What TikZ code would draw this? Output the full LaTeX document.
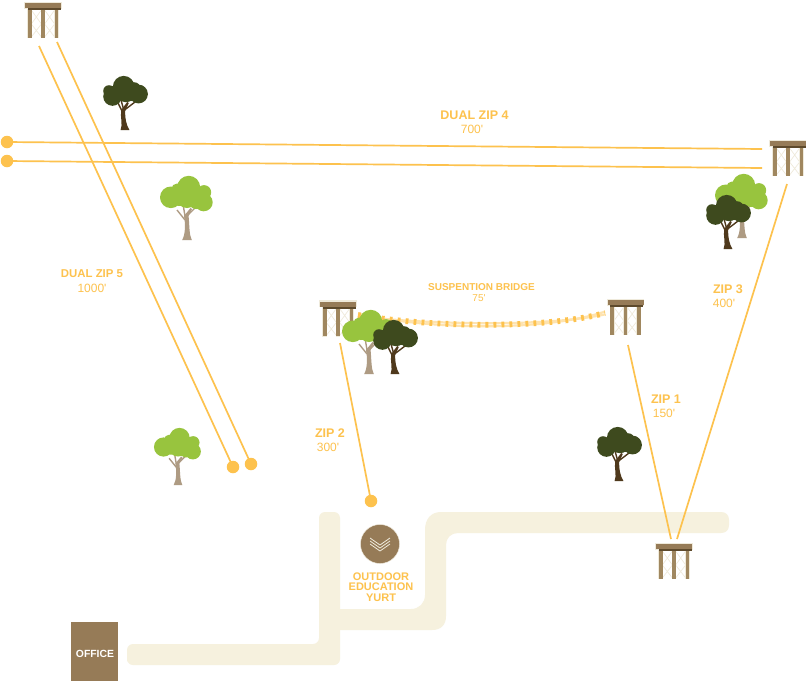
\documentclass[tikz,border=0pt]{standalone}
\usepackage{fontspec}
\setmainfont{Liberation Sans}
\definecolor{zipline}{HTML}{FDC24E}
\definecolor{pathcream}{HTML}{F6F1DE}
\definecolor{woodbrown}{HTML}{967B57}
\definecolor{postbrown}{HTML}{A0875F}
\definecolor{beamdark}{HTML}{5E4A2C}
\definecolor{braceline}{HTML}{EFEADB}
\definecolor{darkleaf}{HTML}{3E4A1E}
\definecolor{lightleaf}{HTML}{98C43E}
\definecolor{darkbark}{HTML}{4F391C}
\definecolor{lightbark}{HTML}{AE9B83}
\newcommand{\ft}{\textquotesingle}
\tikzset{
  x=1pt,y=-1pt,
  zip/.style={draw=zipline,line width=1.7pt},
  enddot/.style={circle,fill=zipline,inner sep=0pt,minimum size=12.5pt},
  zipname/.style={text=zipline,font=\bfseries\fontsize{12.5}{13}\selectfont,inner sep=0pt},
  ziplen/.style={text=zipline,font=\fontsize{12}{13}\selectfont,inner sep=0pt},
  yurtname/.style={text=zipline,font=\bfseries\fontsize{11}{11}\selectfont,align=center,inner sep=0pt},
  platform/.pic={
    \draw[braceline,line width=.7pt] (-11.7,9)--(-1.6,23)--(-11.7,36) (-1.6,9)--(-11.7,23)--(-1.6,36)
      (1.6,9)--(11.7,23)--(1.6,36) (11.7,9)--(1.6,23)--(11.7,36);
    \foreach \px in {-13.3,0,13.3}{
      \fill[braceline] (\px-2.4,6) rectangle (\px+2.4,37);
      \fill[postbrown] (\px-1.8,6) rectangle (\px+1.8,36.5);
    }
    \fill[braceline] (-18.8,0.6) rectangle (18.8,7.6);
    \fill[woodbrown] (-18,2) rectangle (18,7);
    \fill[beamdark] (-15.5,7) rectangle (17.5,9);
  },
  darktree/.pic={
    \fill[darkbark] (-4.4,0) .. controls (-2,-6) and (-5,-13) .. (-3.8,-20) -- (2.2,-28) -- (3.8,-27)
      -- (0.2,-19) .. controls (-0.2,-12) and (1.4,-5) .. (4.4,0) -- cycle;
    \draw[darkbark,line width=1.4pt] (-2,-17) -- (-7,-27) (-1.5,-21) -- (-4,-30) (-0.5,-20) -- (10,-28);
    \fill[darkleaf] (-1.3,-43.3) circle (10.8) (-16,-39) circle (5.8) (-12.5,-33.5) circle (9.3)
      (9,-41) circle (6.8) (13.5,-36) circle (9.4) (1,-37) circle (9.2) (-7,-38) circle (8) (6,-37) circle (8);
  },
  lighttree/.pic={
    \fill[lightbark] (-4.8,0) .. controls (-1.5,-6) and (-1.5,-16) .. (-3,-24) -- (3.5,-32) -- (5,-31)
      -- (1.6,-24) .. controls (2.5,-14) and (2.2,-5) .. (4.8,0) -- cycle;
    \draw[lightbark,line width=1.4pt] (-2,-20) -- (-10,-30) (-2,-24) -- (-4,-36) (0,-24) -- (8,-32);
    \fill[lightleaf] (-16.2,-42.7) circle (10.8) (1.7,-52.7) circle (11.5) (16.7,-37.7) circle (9)
      (17,-47.7) circle (7.2) (-10,-51) circle (5.5) (0,-43) circle (11) (10,-44) circle (9)
      (-8,-43) circle (9) (9,-38) circle (7);
  }
}
\begin{document}
\begin{tikzpicture}
\useasboundingbox (0,0) rectangle (806,681);
\fill[white] (0,0) rectangle (806,681);

% paths
\fill[pathcream,rounded corners=6pt] (127,655) -- (127,644) -- (319,644) -- (319,512) -- (340,512) -- (340,665) -- (127,665) -- cycle;
\fill[pathcream] (340,609) -- (411,609) .. controls (419,609) and (425,603) .. (425,595)
  -- (425,530) .. controls (425,519) and (431,512) .. (441,512) -- (721,512)
  .. controls (726,512) and (729,515) .. (729,520) -- (729,525) .. controls (729,530) and (726,533) .. (721,533)
  -- (458,533) .. controls (451,533) and (446,538) .. (446,545) -- (446,616)
  .. controls (446,625) and (441,630) .. (432,630) -- (340,630) -- cycle;

% office
\node[fill=woodbrown,minimum width=47pt,minimum height=59pt,inner sep=0pt,anchor=north west] (office) at (71,622) {};
\node[text=white,font=\bfseries\fontsize{10.4}{11}\selectfont,inner sep=0pt] (officetext) at (95,654) {OFFICE};

% yurt
\node[circle,fill=woodbrown,draw=braceline,line width=.4pt,minimum size=39pt,inner sep=0pt] (yurt) at (380,544) {};
\foreach \yo in {-6,-3,0}
  \draw[braceline,line width=.8pt] ([xshift=-10pt,yshift=-\yo pt]yurt.center) ++(0,0) -- ++(10,7) -- ++(10,-7);
\node[yurtname] (yurtlabel) at (381,587) {OUTDOOR\\[-.5pt]EDUCATION\\[-.5pt]YURT};

% zip lines
\coordinate (z5a) at (39,46);
\coordinate (z5b) at (57,42);
\coordinate (z4a) at (762,149);
\coordinate (z4b) at (762,168);
\coordinate (z3a) at (787,184);
\coordinate (z3b) at (677,539);
\coordinate (z1a) at (628,345);
\coordinate (z1b) at (671,539);
\coordinate (z2a) at (340,343);
\coordinate (brl) at (358,315);
\coordinate (brr) at (605,313);
\node[enddot] (d5a) at (233,467) {};
\node[enddot] (d5b) at (251,464) {};
\node[enddot] (d4a) at (7,142) {};
\node[enddot] (d4b) at (7,161) {};
\node[enddot] (d2) at (371,501) {};
\draw[zip] (z5a) -- (d5a.center);
\draw[zip] (z5b) -- (d5b.center);
\draw[zip] (d4a.center) -- (z4a);
\draw[zip] (d4b.center) -- (z4b);
\draw[zip] (z3a) -- (z3b);
\draw[zip] (z1a) -- (z1b);
\draw[zip] (z2a) -- (d2.center);

% bridge
\draw[zipline!45,line width=2.2pt] ([yshift=-1.4pt]brl) .. controls (420,323.5) and (540,328) .. ([yshift=-1.4pt]brr);
\draw[zipline!45,line width=2.2pt] ([yshift=1.4pt]brl) .. controls (420,328.5) and (540,333) .. ([yshift=1.4pt]brr);
\draw[draw=zipline,line width=5.8pt,dash pattern=on 2.8pt off 5.2pt] (brl) .. controls (420,326) and (540,330.5) .. (brr);

% platforms
\pic (p1) at (43,1) {platform};
\pic (p2) at (788,139) {platform};
\pic (p3) at (338,299.5) {platform};
\pic (p4) at (625.5,298) {platform};
\pic (p5) at (674,542) {platform};

% trees
\pic (t1) at (125,130) {darktree};
\pic (t2) at (187,240) {lighttree};
\pic[scale=.89] (t3) at (178,485) {lighttree};
\pic (t4) at (369,374) {lighttree};
\pic (t5) at (395,374) {darktree};
\pic (t6) at (742,238) {lighttree};
\pic (t7) at (728,249) {darktree};
\pic (t8) at (619,481) {darktree};

% labels
\node[zipname] (l4) at (474.5,115) {DUAL ZIP 4};
\node[ziplen] (l4b) at (472,129) {700\ft};
\node[zipname,font=\bfseries\fontsize{11.4}{13}\selectfont] (l5) at (92,274) {DUAL ZIP 5};
\node[ziplen] (l5b) at (92,288) {1000\ft};
\node[zipname] (l3) at (728,289) {ZIP 3};
\node[ziplen] (l3b) at (724,303) {400\ft};
\node[zipname] (l2) at (330,433) {ZIP 2};
\node[ziplen] (l2b) at (328,447) {300\ft};
\node[zipname] (l1) at (666,399) {ZIP 1};
\node[ziplen] (l1b) at (664,413) {150\ft};
\node[zipname,font=\bfseries\fontsize{10}{11}\selectfont] (lb) at (481.5,287) {SUSPENTION BRIDGE};
\node[ziplen,font=\fontsize{10}{11}\selectfont] (lbb) at (479,298) {75\ft};
\end{tikzpicture}
\end{document}
